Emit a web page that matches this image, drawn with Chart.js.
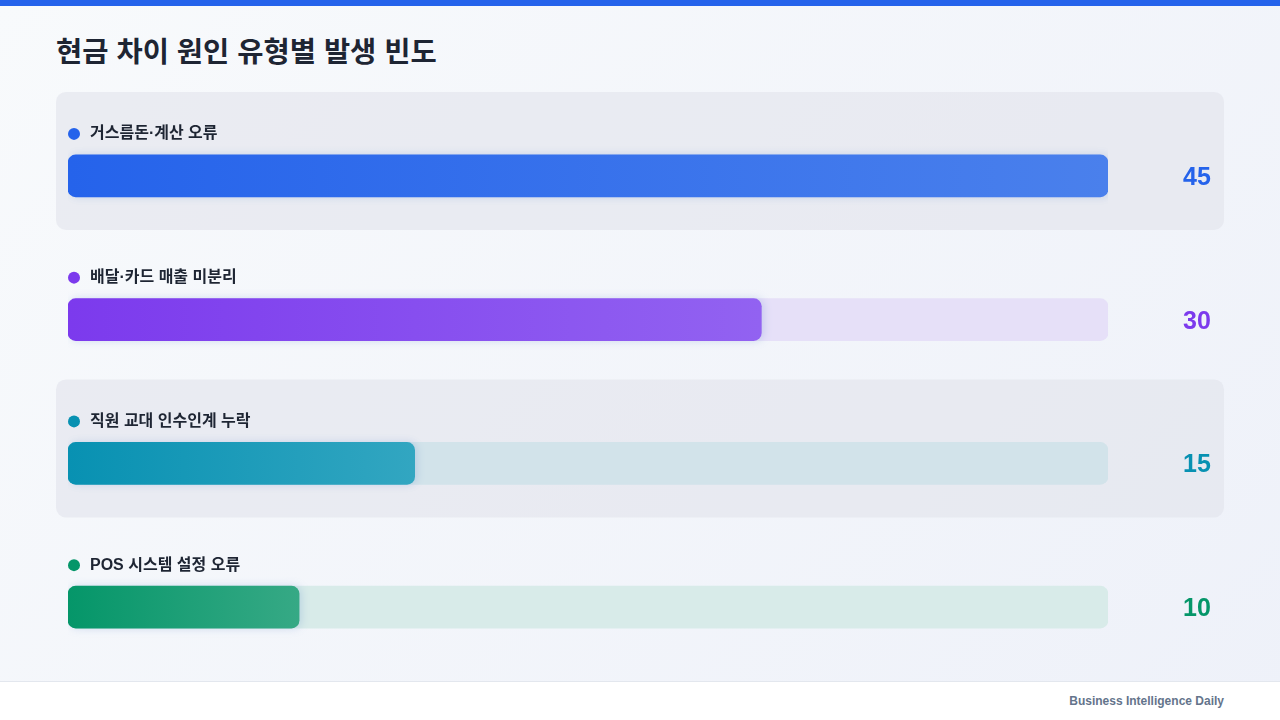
<!DOCTYPE html>
<html lang="ko">
<head>
<meta charset="utf-8">
<script src="https://cdn.jsdelivr.net/npm/chart.js@4.4.1/dist/chart.umd.min.js"></script>
<style>
    html, body { margin: 0; padding: 0; }
    body {
        width: 1280px; height: 720px; overflow: hidden; position: relative;
        background: linear-gradient(135deg, #f8fafc 0%, #eef1f9 100%);
        font-family: "Liberation Sans", "Noto Sans CJK KR", sans-serif;
    }
    .topbar { position: absolute; left: 0; top: 0; width: 1280px; height: 6px; background: #2563eb; }
    h1 {
        position: absolute; left: 56px; top: 29px; margin: 0;
        font-family: "Noto Sans CJK KR", sans-serif; font-weight: 700; font-size: 28.5px;
        color: #1e2533;
    }
    .footer {
        position: absolute; left: 0; top: 681px; width: 1280px; height: 39px;
        background: #ffffff; border-top: 1px solid #e3e7ee; box-sizing: border-box;
    }
    .footer span {
        position: absolute; right: 56px; top: 12px;
        font-size: 12px; font-weight: 700; color: #64748b;
    }
    #wrap { position: absolute; left: 0; top: 0; width: 1280px; height: 720px; }
</style>
</head>
<body>
<div class="topbar"></div>
<h1>현금 차이 원인 유형별 발생 빈도</h1>
<div class="footer"><span>Business Intelligence Daily</span></div>
<div id="wrap"><canvas id="myChart"></canvas></div>
<script>
const categories = ["거스름돈·계산 오류", "배달·카드 매출 미분리", "직원 교대 인수인계 누락", "POS 시스템 설정 오류"];
const counts = [45, 30, 15, 10];
const startColors = ["#2563eb", "#7c3aed", "#0891b2", "#059669"];
const endColors = ["#4a80ec", "#9262f1", "#32a6c1", "#36a985"];
const trackColors = ["#dde6f8", "#e6e0f8", "#d2e3ea", "#d8ebe9"];

const maxCount = Math.max(...counts);

document.addEventListener("DOMContentLoaded", function () {
    const ctx = document.getElementById("myChart").getContext("2d");

    // row panels behind rows 1 and 3, labels and values on top
    const rowPlugin = {
        id: "rowPlugin",
        beforeDatasetsDraw(chart) {
            const c = chart.ctx;
            const yScale = chart.scales.y;
            c.save();
            categories.forEach((cat, i) => {
                if (i % 2 !== 0) return;
                const cy = yScale.getPixelForValue(i);
                c.fillStyle = "rgba(226, 228, 236, 0.62)";
                c.beginPath();
                c.roundRect(56, cy - 84, 1168, 138, 10);
                c.fill();
            });
            c.restore();
        },
        afterDatasetsDraw(chart) {
            const c = chart.ctx;
            const yScale = chart.scales.y;
            const xScale = chart.scales.x;
            c.save();
            categories.forEach((cat, i) => {
                const cy = yScale.getPixelForValue(i);
                const left = xScale.getPixelForValue(0);
                // dot
                c.fillStyle = startColors[i];
                c.beginPath();
                c.arc(left + 6, cy - 42, 6, 0, Math.PI * 2);
                c.fill();
                // label
                c.fillStyle = "#1e2533";
                c.font = "600 16px 'Liberation Sans', 'Noto Sans CJK KR', sans-serif";
                c.textBaseline = "middle";
                c.textAlign = "left";
                c.fillText(cat, left + 22, cy - 42);
                // value
                c.fillStyle = startColors[i];
                c.font = "bold 25px 'Liberation Sans', sans-serif";
                c.textAlign = "center";
                c.fillText(String(counts[i]), 1197, cy + 2);
            });
            c.restore();
        },
        beforeDatasetDraw(chart, args) {
            if (args.index === 1) {
                chart.ctx.save();
                chart.ctx.shadowColor = "rgba(60, 110, 190, 0.2)";
                chart.ctx.shadowBlur = 8;
                chart.ctx.shadowOffsetX = 2;
            }
        },
        afterDatasetDraw(chart, args) {
            if (args.index === 1) chart.ctx.restore();
        }
    };

    function barGradient(context) {
        const chart = context.chart;
        const i = context.dataIndex;
        if (!chart.chartArea || !chart.scales.x) return startColors[i];
        const xScale = chart.scales.x;
        const x0 = xScale.getPixelForValue(0);
        const x1 = xScale.getPixelForValue(counts[i]);
        const g = chart.ctx.createLinearGradient(x0, 0, x1, 0);
        g.addColorStop(0, startColors[i]);
        g.addColorStop(1, endColors[i]);
        return g;
    }

    new Chart(ctx, {
        type: "bar",
        data: {
            labels: categories,
            datasets: [
                {
                    label: "track",
                    data: categories.map(() => maxCount),
                    backgroundColor: trackColors,
                    borderRadius: 8,
                    borderSkipped: false,
                    barThickness: 42,
                    grouped: false,
                    order: 2
                },
                {
                    label: "발생 빈도",
                    data: counts,
                    backgroundColor: barGradient,
                    borderRadius: 8,
                    borderSkipped: false,
                    barThickness: 42,
                    grouped: false,
                    order: 1
                }
            ]
        },
        options: {
            indexAxis: "y",
            responsive: true,
            maintainAspectRatio: false,
            animation: false,
            layout: { padding: { left: 68, right: 172, top: 104, bottom: 41 } },
            scales: {
                x: { display: false, min: 0, max: maxCount },
                y: { display: false }
            },
            plugins: {
                legend: { display: false },
                tooltip: { enabled: false }
            }
        },
        plugins: [rowPlugin]
    });
});
</script>
</body>
</html>
